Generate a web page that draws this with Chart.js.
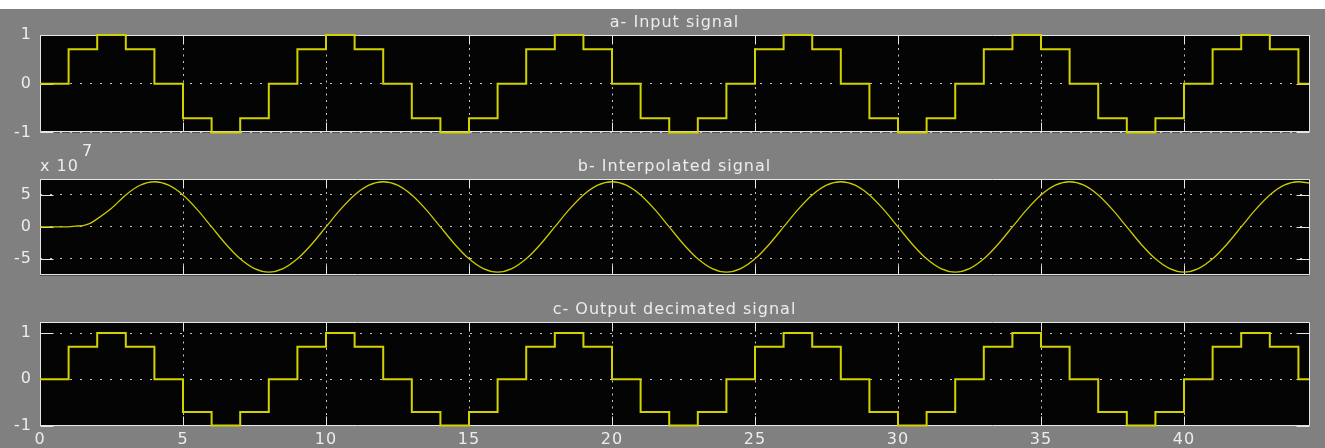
<!DOCTYPE html>
<html>
<head>
<meta charset="utf-8">
<script src="https://cdn.jsdelivr.net/npm/chart.js@4.4.1/dist/chart.umd.min.js"></script>
<style>
html,body{margin:0;padding:0;background:#ffffff;overflow:hidden;}
#bg{position:absolute;left:0;top:9px;width:1325px;height:439px;background:#808080;}
canvas{position:absolute;left:0;}
</style>
</head>
<body>
<div id="bg"></div>
<canvas id="ca" width="1325" height="141" style="top:9px"></canvas>
<canvas id="cb" width="1325" height="151" style="top:142px"></canvas>
<canvas id="cc" width="1325" height="155" style="top:293px"></canvas>
<script>
// ---------------- data ----------------
const xMin = 0;
const xMax = 44.37;
const xTickValues = [0, 5, 10, 15, 20, 25, 30, 35, 40];
const xTickLabels = ['0', '5', '10', '15', '20', '25', '30', '35', '40'];

// a- input signal (sample-and-hold), sample times and held values
const inputTimes = [0,1,2,3,4,5,6,7,8,9,10,11,12,13,14,15,16,17,18,19,20,21,22,23,24,25,26,27,28,29,30,31,32,33,34,35,36,37,38,39,40,41,42,43,44,44.37];
const inputValues = [0,0.707,1,0.707,0,-0.707,-1,-0.707,
                     0,0.707,1,0.707,0,-0.707,-1,-0.707,
                     0,0.707,1,0.707,0,-0.707,-1,-0.707,
                     0,0.707,1,0.707,0,-0.707,-1,-0.707,
                     0,0.707,1,0.707,0,-0.707,-1,-0.707,
                     0,0.707,1,0.707,0,0];

// b- interpolated signal (values in units of 10^7)
const interpTimes = [0,0.5,1,1.25,1.5,1.75,2,2.5,3,3.5,
  4,4.5,5,5.5,6,6.5,7,7.5,8,8.5,9,9.5,10,10.5,11,11.5,
  12,12.5,13,13.5,14,14.5,15,15.5,16,16.5,17,17.5,18,18.5,19,19.5,
  20,20.5,21,21.5,22,22.5,23,23.5,24,24.5,25,25.5,26,26.5,27,27.5,
  28,28.5,29,29.5,30,30.5,31,31.5,32,32.5,33,33.5,34,34.5,35,35.5,
  36,36.5,37,37.5,38,38.5,39,39.5,40,40.5,41,41.5,42,42.5,43,43.5,
  44,44.37];
const interpValues = [0,0,0.02,0.12,0.2,0.55,1.25,2.9,5.0,6.5,
  7.05,6.51,4.98,2.70,0,-2.70,-4.98,-6.51,-7.05,-6.51,-4.98,-2.70,0,2.70,4.98,6.51,
  7.05,6.51,4.98,2.70,0,-2.70,-4.98,-6.51,-7.05,-6.51,-4.98,-2.70,0,2.70,4.98,6.51,
  7.05,6.51,4.98,2.70,0,-2.70,-4.98,-6.51,-7.05,-6.51,-4.98,-2.70,0,2.70,4.98,6.51,
  7.05,6.51,4.98,2.70,0,-2.70,-4.98,-6.51,-7.05,-6.51,-4.98,-2.70,0,2.70,4.98,6.51,
  7.05,6.51,4.98,2.70,0,-2.70,-4.98,-6.51,-7.05,-6.51,-4.98,-2.70,0,2.70,4.98,6.51,
  7.05,6.85];

// c- output decimated signal
const outputTimes = [0,1,2,3,4,5,6,7,8,9,10,11,12,13,14,15,16,17,18,19,20,21,22,23,24,25,26,27,28,29,30,31,32,33,34,35,36,37,38,39,40,41,42,43,44,44.37];
const outputValues = [0,0.707,1,0.707,0,-0.707,-1,-0.707,
                      0,0.707,1,0.707,0,-0.707,-1,-0.707,
                      0,0.707,1,0.707,0,-0.707,-1,-0.707,
                      0,0.707,1,0.707,0,-0.707,-1,-0.707,
                      0,0.707,1,0.707,0,-0.707,-1,-0.707,
                      0,0.707,1,0.707,0,0];

const yTicksA = [-1, 0, 1];
const yLabelsA = ['-1', '0', '1'];
const yTicksB = [-5, 0, 5];
const yLabelsB = ['-5', '0', '5'];
const yTicksC = [-1, 0, 1];
const yLabelsC = ['-1', '0', '1'];

const titleA = 'a- Input signal';
const titleB = 'b- Interpolated signal';
const titleC = 'c- Output decimated signal';
const exponentBase = 'x 10';
const exponentPower = '7';

// ---------------- styling ----------------
const FONT = '"DejaVu Sans", Verdana, sans-serif';
const TEXT = '#ececec';
const AXIS = '#e6e6e6';
const GRID = '#c4c4c4';

const matlabPlugin = {
  id: 'matlab',
  beforeDraw(chart) {
    const {ctx, chartArea: a} = chart;
    ctx.save();
    ctx.fillStyle = '#040404';
    ctx.fillRect(a.left, a.top, a.right - a.left, a.bottom - a.top);
    ctx.restore();
    ctx.letterSpacing = '1px';
  },
  beforeDatasetsDraw(chart, args, opts) {
    const {ctx, chartArea: a} = chart;
    const xs = chart.scales.x, ys = chart.scales.y;
    ctx.save();
    ctx.strokeStyle = AXIS;
    ctx.lineWidth = 1;
    ctx.beginPath();
    const L = Math.round(a.left) + 0.5, R = Math.round(a.right) + 0.5;
    const T = Math.round(a.top) + 0.5, B = Math.round(a.bottom) - 0.5;
    ctx.rect(L, T, R - L, B - T);
    xs.ticks.forEach(t => {
      const px = Math.round(xs.getPixelForValue(t.value)) + 0.5;
      ctx.moveTo(px, T); ctx.lineTo(px, T + 9);
      ctx.moveTo(px, B); ctx.lineTo(px, B - 9);
    });
    ys.ticks.forEach(t => {
      const py = Math.round(ys.getPixelForValue(t.value)) + 0.5;
      ctx.moveTo(L, py); ctx.lineTo(L + 13, py);
      ctx.moveTo(R, py); ctx.lineTo(R - 13, py);
    });
    ctx.stroke();
    ctx.restore();
  },
  afterDraw(chart, args, opts) {
    const {ctx, chartArea: a} = chart;
    ctx.save();
    ctx.fillStyle = TEXT;
    ctx.font = '16px ' + FONT;
    ctx.letterSpacing = '1px';
    ctx.textAlign = 'center';
    ctx.textBaseline = 'alphabetic';
    ctx.fillText(opts.title, (a.left + a.right) / 2, a.top - 8);
    if (opts.exp) {
      ctx.textAlign = 'left';
      ctx.fillText(exponentBase, a.left, a.top - 8);
      ctx.fillText(exponentPower, a.left + 42, a.top - 23);
    }
    ctx.restore();
  }
};

function makeChart(id, cfg) {
  const data = cfg.times.map((t, i) => ({x: t, y: cfg.values[i]}));
  return new Chart(document.getElementById(id), {
    type: 'line',
    data: {datasets: [{
      data: data,
      borderColor: cfg.color,
      borderWidth: cfg.width,
      stepped: cfg.stepped,
      cubicInterpolationMode: cfg.stepped ? 'default' : 'monotone',
      tension: cfg.stepped ? 0 : 0.4,
      pointRadius: 0,
      fill: false,
      clip: 2
    }]},
    options: {
      responsive: false,
      animation: false,
      events: [],
      layout: {padding: {top: cfg.padTop, bottom: cfg.padBottom, left: 0, right: 16}},
      plugins: {
        legend: {display: false},
        tooltip: {enabled: false},
        title: {display: false},
        matlab: {title: cfg.title, exp: cfg.exp}
      },
      scales: {
        x: {
          type: 'linear', min: xMin, max: xMax,
          afterBuildTicks: s => { s.ticks = xTickValues.map(v => ({value: v})); },
          afterFit: s => { s.height = cfg.xHeight; },
          ticks: {
            display: cfg.showX, color: TEXT, font: {family: FONT, size: 16},
            padding: 4, maxRotation: 0, autoSkip: false,
            callback: (v, i) => xTickLabels[i]
          },
          grid: {color: GRID, lineWidth: 1, drawTicks: false},
          border: {display: false, dash: [2, 4.5]}
        },
        y: {
          type: 'linear', min: cfg.yMin, max: cfg.yMax,
          afterBuildTicks: s => { s.ticks = cfg.yTicks.map(v => ({value: v})); },
          afterFit: s => { s.width = 40; },
          ticks: {
            color: TEXT, font: {family: FONT, size: 16}, padding: 8,
            callback: (v, i) => cfg.yLabels[i]
          },
          grid: {color: GRID, lineWidth: 1, drawTicks: false},
          border: {display: false, dash: [2, 8]}
        }
      }
    },
    plugins: [matlabPlugin]
  });
}

makeChart('ca', {times: inputTimes, values: inputValues, color: '#d2d200', width: 2, stepped: 'before',
  yMin: -1, yMax: 1, yTicks: yTicksA, yLabels: yLabelsA, padTop: 26, padBottom: 10, xHeight: 0,
  showX: false, title: titleA, exp: false});
makeChart('cb', {times: interpTimes, values: interpValues, color: '#caca00', width: 1.3, stepped: false,
  yMin: -7.57, yMax: 7.48, yTicks: yTicksB, yLabels: yLabelsB, padTop: 37, padBottom: 10, xHeight: 0,
  showX: false, title: titleB, exp: true});
makeChart('cc', {times: outputTimes, values: outputValues, color: '#d2d200', width: 2, stepped: 'before',
  yMin: -1.01, yMax: 1.24, yTicks: yTicksC, yLabels: yLabelsC, padTop: 29, padBottom: 0, xHeight: 22,
  showX: true, title: titleC, exp: false});
</script>
</body>
</html>
